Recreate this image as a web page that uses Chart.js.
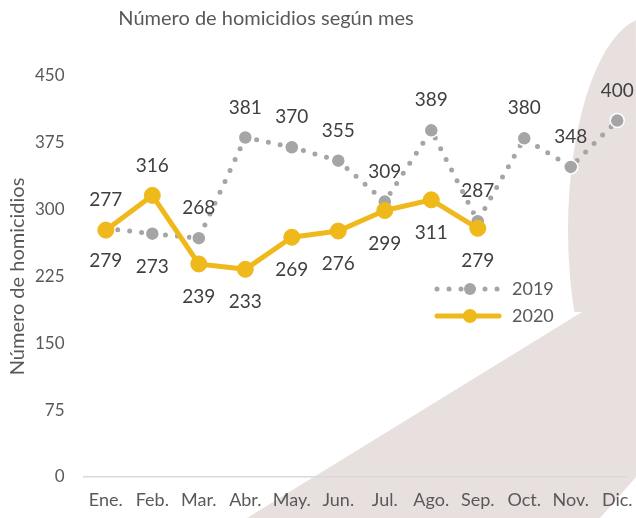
<!DOCTYPE html>
<html>
<head>
<meta charset="utf-8">
<script src="https://cdn.jsdelivr.net/npm/chart.js@4/dist/chart.umd.min.js"></script>
<style>
  html, body { margin: 0; padding: 0; background: #ffffff; }
  #wrap { width: 636px; height: 518px; position: relative; }
</style>
</head>
<body>
<div id="wrap"><canvas id="c" width="636" height="518"></canvas></div>
<script>
const months = ['Ene.', 'Feb.', 'Mar.', 'Abr.', 'May.', 'Jun.', 'Jul.', 'Ago.', 'Sep.', 'Oct.', 'Nov.', 'Dic.'];
const values2019 = [279, 273, 268, 381, 370, 355, 309, 389, 287, 380, 348, 400];
const values2020 = [277, 316, 239, 233, 269, 276, 299, 311, 279];
const yTicks = [0, 75, 150, 225, 300, 375, 450];
const titleText = 'Número de homicidios según mes';
const yTitleText = 'Número de homicidios';

const FONT = 'Lato, "Open Sans", sans-serif';
const GOLD = '#EFB81B';
const GREY = '#A5A5A5';

const toPoints = (arr) => arr.map((v, i) => ({ x: i, y: v }));

// decorative background shape + titles
const bgShape = {
  id: 'bgShape',
  beforeDraw(chart) {
    const ctx = chart.ctx;
    const W = chart.width, H = chart.height;
    ctx.save();
    ctx.fillStyle = '#ffffff';
    ctx.fillRect(0, 0, W, H);
    ctx.fillStyle = '#E7E0DE';
    ctx.beginPath();
    ctx.moveTo(247, H);
    ctx.lineTo(582, 312);
    ctx.ellipse(650, 230, 82, 213, 0, 2.746, 4.54, false);
    ctx.lineTo(W, 477);
    ctx.lineTo(600, H);
    ctx.closePath();
    ctx.fill();
    ctx.font = '20px ' + FONT;
    ctx.fillStyle = '#595959';
    ctx.textAlign = 'center';
    ctx.textBaseline = 'middle';
    ctx.fillText(titleText, 266, 19);
    const ca = chart.chartArea;
    ctx.translate(18, (ca.top + ca.bottom) / 2);
    ctx.rotate(-Math.PI / 2);
    ctx.fillText(yTitleText, 0, 0);
    ctx.restore();
  }
};

// value labels
const valueLabels = {
  id: 'valueLabels',
  afterDatasetsDraw(chart, args, opts) {
    const ctx = chart.ctx;
    ctx.save();
    ctx.font = '19px ' + FONT;
    ctx.fillStyle = '#404040';
    ctx.textAlign = 'center';
    ctx.textBaseline = 'middle';
    chart.data.datasets.forEach((ds, di) => {
      const meta = chart.getDatasetMeta(di);
      const place = opts.placement[di];
      meta.data.forEach((el, i) => {
        const v = ds.data[i].y;
        const dy = place[i] === 'below' ? 33 : -30;
        ctx.fillText(String(v), el.x, el.y + dy);
      });
    });
    ctx.restore();
  }
};

// custom legend
const customLegend = {
  id: 'customLegend',
  afterDraw(chart) {
    const ctx = chart.ctx;
    ctx.save();
    const rows = [
      { ds: chart.data.datasets[0], y: 289 },
      { ds: chart.data.datasets[1], y: 316 }
    ];
    rows.forEach(r => {
      const ds = r.ds;
      ctx.strokeStyle = ds.borderColor;
      ctx.lineWidth = ds.borderWidth;
      ctx.lineCap = 'round';
      ctx.setLineDash(ds.borderDash || []);
      ctx.beginPath();
      ctx.moveTo(437, r.y);
      ctx.lineTo(499, r.y);
      ctx.stroke();
      ctx.setLineDash([]);
      ctx.beginPath();
      ctx.arc(470, r.y, ds.pointRadius - 1, 0, Math.PI * 2);
      ctx.fillStyle = ds.pointBackgroundColor;
      ctx.fill();
      ctx.font = '18px ' + FONT;
      ctx.fillStyle = '#595959';
      ctx.textAlign = 'left';
      ctx.textBaseline = 'middle';
      ctx.fillText(ds.label, 512, r.y);
    });
    ctx.restore();
  }
};

new Chart(document.getElementById('c'), {
  type: 'line',
  data: {
    datasets: [
      {
        label: '2019',
        data: toPoints(values2019),
        borderColor: GREY,
        borderWidth: 5,
        borderDash: [0, 12],
        borderCapStyle: 'round',
        pointRadius: 7,
        pointBackgroundColor: GREY,
        pointBorderColor: '#ffffff',
        pointBorderWidth: 1.5,
        tension: 0,
        order: 2
      },
      {
        label: '2020',
        data: toPoints(values2020),
        borderColor: GOLD,
        borderWidth: 5,
        borderCapStyle: 'round',
        borderJoinStyle: 'round',
        pointRadius: 8,
        pointBackgroundColor: GOLD,
        pointBorderColor: GOLD,
        pointBorderWidth: 1,
        tension: 0,
        order: 1
      }
    ]
  },
  options: {
    responsive: false,
    animation: false,
    events: [],
    layout: { padding: { left: 17, right: 0, top: 76, bottom: -5 } },
    plugins: {
      legend: { display: false },
      tooltip: { enabled: false },
      title: { display: false },
      valueLabels: {
        placement: [
          ['below', 'below', 'above', 'above', 'above', 'above', 'above', 'above', 'above', 'above', 'above', 'above'],
          ['above', 'above', 'below', 'below', 'below', 'below', 'below', 'below', 'below']
        ]
      }
    },
    scales: {
      x: {
        type: 'linear',
        min: -0.5,
        max: 11.21,
        afterBuildTicks(axis) { axis.ticks = months.map((m, i) => ({ value: i })); },
        grid: { display: false, drawTicks: false },
        border: { display: false },
        ticks: {
          color: '#595959',
          font: { family: FONT, size: 18, lineHeight: 2.56 },
          padding: 0,
          maxRotation: 0,
          autoSkip: false,
          callback: (v) => months[v]
        }
      },
      y: {
        min: 0,
        max: 450,
        afterBuildTicks(axis) { axis.ticks = yTicks.map(v => ({ value: v })); },
        grid: {
          drawTicks: false,
          lineWidth: 1.5,
          color: (c) => (c.tick && c.tick.value === 0 ? '#D9D9D9' : 'rgba(0,0,0,0)')
        },
        border: { display: false },
        ticks: {
          color: '#595959',
          font: { family: FONT, size: 17 },
          padding: 18
        }
      }
    }
  },
  plugins: [bgShape, valueLabels, customLegend]
});
</script>
</body>
</html>
